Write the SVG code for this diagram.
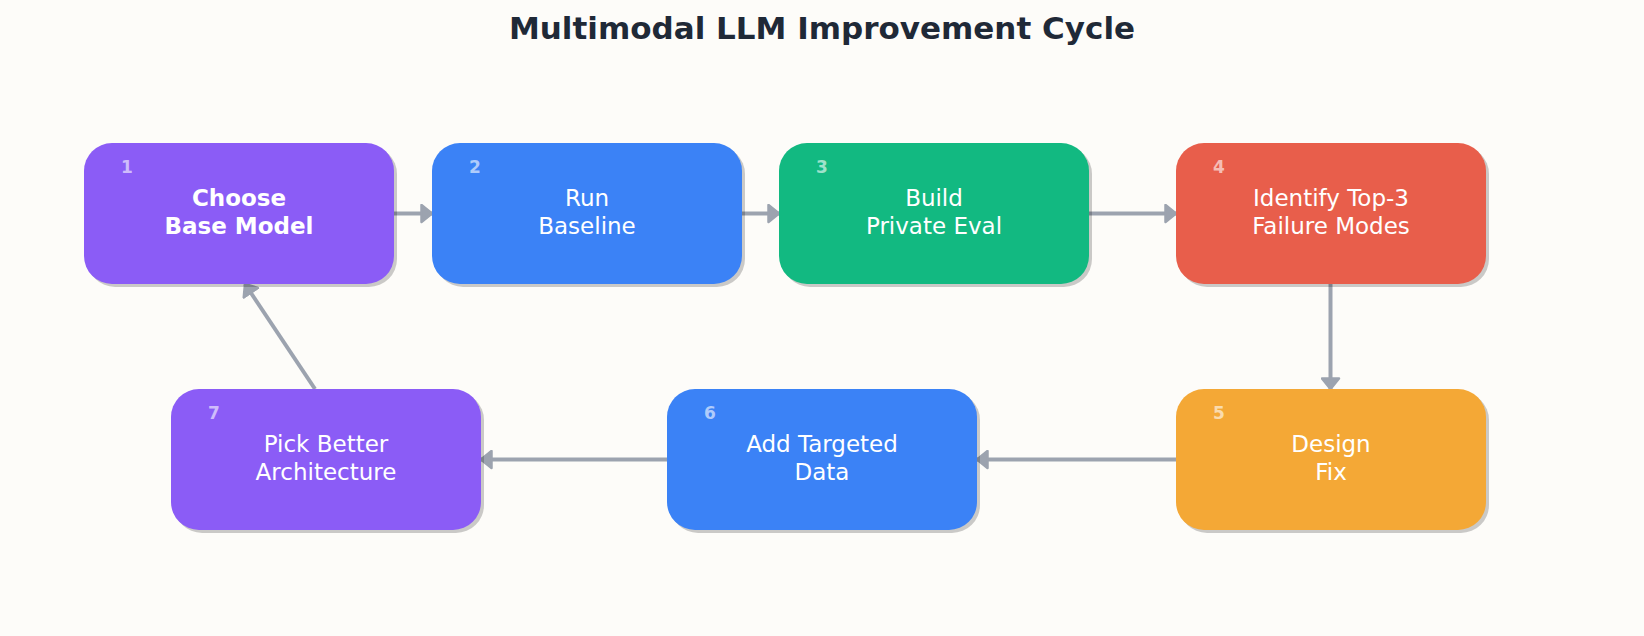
<svg xmlns="http://www.w3.org/2000/svg" width="1644" height="636" viewBox="0 0 1644 636">
<style>
.bg{fill:#fdfcf9}
.title{font-family:"DejaVu Sans",sans-serif;font-weight:bold;font-size:31px;fill:#1f2937;text-anchor:middle}
.box{rx:28px;ry:28px}
.shadow{fill:#000;fill-opacity:0.2}
.num{font-family:"DejaVu Sans",sans-serif;font-weight:bold;font-size:17px;fill:#fff;fill-opacity:0.6;text-anchor:middle}
.lbl{font-family:"DejaVu Sans",sans-serif;font-size:23px;fill:#fff;text-anchor:middle}
.lblb{font-family:"DejaVu Sans",sans-serif;font-size:23px;font-weight:bold;fill:#fff;text-anchor:middle}
.conn{stroke:#9ca3af;stroke-width:4;fill:none;marker-end:url(#ah)}
</style>
<defs>
<marker id="ah" markerUnits="userSpaceOnUse" markerWidth="14" markerHeight="20" viewBox="0 0 14 20" refX="12" refY="10" orient="auto">
<path d="M1.5,1.5 L12,10 L1.5,18.5 Z" fill="#9ca3af" stroke="#9ca3af" stroke-width="2.5" stroke-linejoin="round"/>
</marker>
</defs>
<rect class="bg" x="0" y="0" width="1644" height="636"/>
<text class="title" x="822" y="39">Multimodal LLM Improvement Cycle</text>
<g id="connectors">
<line class="conn" x1="394" y1="213.5" x2="432" y2="213.5"/>
<line class="conn" x1="742" y1="213.5" x2="779" y2="213.5"/>
<line class="conn" x1="1089" y1="213.5" x2="1176" y2="213.5"/>
<line class="conn" x1="1330.5" y1="284" x2="1330.5" y2="389"/>
<line class="conn" x1="1176" y1="459.5" x2="977" y2="459.5"/>
<line class="conn" x1="667" y1="459.5" x2="481" y2="459.5"/>
<line class="conn" x1="315" y1="389" x2="245" y2="284"/>
</g>
<g id="node1">
<rect class="box shadow" x="87" y="146" width="310" height="141"/>
<rect class="box" x="84" y="143" width="310" height="141" fill="#8b5cf6"/>
<text class="num" x="127" y="173">1</text>
<text class="lblb" x="239" y="206">Choose</text>
<text class="lblb" x="239" y="234">Base Model</text>
</g>
<g id="node2">
<rect class="box shadow" x="435" y="146" width="310" height="141"/>
<rect class="box" x="432" y="143" width="310" height="141" fill="#3b82f6"/>
<text class="num" x="475" y="173">2</text>
<text class="lbl" x="587" y="206">Run</text>
<text class="lbl" x="587" y="234">Baseline</text>
</g>
<g id="node3">
<rect class="box shadow" x="782" y="146" width="310" height="141"/>
<rect class="box" x="779" y="143" width="310" height="141" fill="#12b981"/>
<text class="num" x="822" y="173">3</text>
<text class="lbl" x="934" y="206">Build</text>
<text class="lbl" x="934" y="234">Private Eval</text>
</g>
<g id="node4">
<rect class="box shadow" x="1179" y="146" width="310" height="141"/>
<rect class="box" x="1176" y="143" width="310" height="141" fill="#e85e4b"/>
<text class="num" x="1219" y="173">4</text>
<text class="lbl" x="1331" y="206">Identify Top-3</text>
<text class="lbl" x="1331" y="234">Failure Modes</text>
</g>
<g id="node5">
<rect class="box shadow" x="1179" y="392" width="310" height="141"/>
<rect class="box" x="1176" y="389" width="310" height="141" fill="#f4a836"/>
<text class="num" x="1219" y="419">5</text>
<text class="lbl" x="1331" y="452">Design</text>
<text class="lbl" x="1331" y="480">Fix</text>
</g>
<g id="node6">
<rect class="box shadow" x="670" y="392" width="310" height="141"/>
<rect class="box" x="667" y="389" width="310" height="141" fill="#3b82f6"/>
<text class="num" x="710" y="419">6</text>
<text class="lbl" x="822" y="452">Add Targeted</text>
<text class="lbl" x="822" y="480">Data</text>
</g>
<g id="node7">
<rect class="box shadow" x="174" y="392" width="310" height="141"/>
<rect class="box" x="171" y="389" width="310" height="141" fill="#8b5cf6"/>
<text class="num" x="214" y="419">7</text>
<text class="lbl" x="326" y="452">Pick Better</text>
<text class="lbl" x="326" y="480">Architecture</text>
</g>
</svg>
